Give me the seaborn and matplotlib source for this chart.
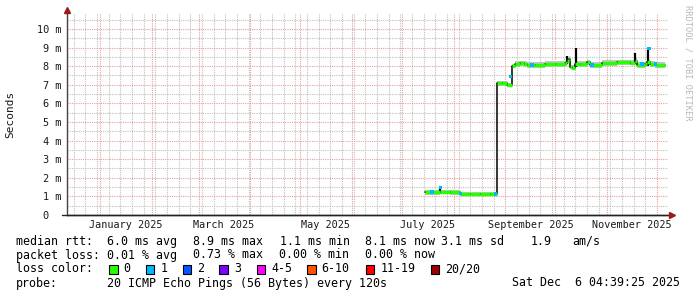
import matplotlib
matplotlib.use("Agg")
import matplotlib.pyplot as plt
import matplotlib.dates as mdates
from matplotlib.patches import Rectangle
import numpy as np
import pandas as pd
import seaborn as sns

# ---------------- data (values in ms) ----------------
dates = ["2025-07-15", "2025-07-19", "2025-07-24", "2025-07-30", "2025-08-05",
         "2025-08-11", "2025-08-17", "2025-08-23", "2025-08-26", "2025-08-27",
         "2025-08-30", "2025-09-02", "2025-09-05", "2025-09-07",
         "2025-09-10", "2025-09-12", "2025-09-14", "2025-09-19", "2025-09-25",
         "2025-10-01", "2025-10-07", "2025-10-08", "2025-10-09", "2025-10-10",
         "2025-10-11", "2025-10-13", "2025-10-16", "2025-10-20", "2025-10-22",
         "2025-10-29", "2025-11-07", "2025-11-15", "2025-11-18", "2025-11-19",
         "2025-11-24", "2025-11-25", "2025-11-27", "2025-11-30", "2025-12-06"]
median = [1.22, 1.22, 1.24, 1.22, 1.13,
          1.13, 1.13, 1.12, 1.13, 7.08,
          7.08, 7.00, 8.00, 8.10,
          8.15, 8.10, 8.05, 8.05, 8.10,
          8.12, 8.15, 8.30, 8.40, 7.95,
          7.90, 8.10, 8.12, 8.20, 8.05,
          8.15, 8.20, 8.18, 8.30, 8.05,
          8.10, 8.20, 8.10, 8.05, 8.05]
smoke_lo = [1.10, 1.10, 1.12, 1.10, 1.02,
            1.02, 1.02, 1.01, 1.02, 6.96,
            6.96, 6.90, 7.88, 7.96,
            8.00, 7.96, 7.92, 7.92, 7.96,
            7.98, 8.00, 8.16, 8.18, 7.83,
            7.78, 7.96, 7.98, 8.06, 7.92,
            8.00, 8.06, 8.04, 8.16, 7.92,
            7.96, 8.06, 7.96, 7.92, 7.92]
smoke_hi = [1.34, 1.34, 1.36, 1.34, 1.25,
            1.25, 1.25, 1.24, 1.25, 7.20,
            7.20, 7.12, 8.14, 8.26,
            8.30, 8.26, 8.20, 8.20, 8.26,
            8.28, 8.30, 8.46, 8.54, 8.08,
            8.04, 8.26, 8.28, 8.36, 8.20,
            8.32, 8.36, 8.34, 8.46, 8.20,
            8.26, 8.36, 8.26, 8.20, 8.20]

# short intervals with 1/20 packet loss (drawn in the loss-1 colour)
loss1_dates = ["2025-07-19", "2025-07-24", "2025-08-05", "2025-08-26", "2025-09-04",
               "2025-09-17", "2025-10-23", "2025-11-22", "2025-11-26", "2025-11-30"]
loss1_median = [1.24, 1.47, 1.15, 1.13, 7.45,
                8.05, 8.05, 8.10, 8.95, 8.10]

spike_dates = ["2025-07-24 00:00", "2025-10-08 00:00", "2025-10-13 12:00", "2025-11-18 00:00", "2025-11-25 12:00"]
spike_lo = [1.18, 8.10, 7.95, 8.10, 8.00]
spike_hi = [1.47, 8.55, 9.00, 8.73, 9.00]

loss_labels = ["0", "1", "2", "3", "4-5", "6-10", "11-19", "20/20"]
loss_colors = ["#26ff00", "#00b8ff", "#0059ff", "#7e00ff", "#ff00ff",
               "#ff5500", "#ff0000", "#a10000"]

y_ticks = [0, 1, 2, 3, 4, 5, 6, 7, 8, 9, 10]
y_tick_labels = ["0  ", "1 m", "2 m", "3 m", "4 m", "5 m", "6 m", "7 m", "8 m", "9 m", "10 m"]
x_label_dates = ["2025-01-16", "2025-03-16", "2025-05-16", "2025-07-16", "2025-09-16", "2025-11-16"]
x_labels = ["January 2025", "March 2025", "May 2025", "July 2025", "September 2025", "November 2025"]

stats_rtt = ["median rtt:", "6.0 ms avg", "8.9 ms max", "1.1 ms min", "8.1 ms now", "3.1 ms sd", "1.9", "am/s"]
stats_loss = ["packet loss:", "0.01 % avg", "0.73 % max", "0.00 % min", "0.00 % now"]
probe_text = ["probe:", "20 ICMP Echo Pings (56 Bytes) every 120s"]
stamp = "Sat Dec  6 04:39:25 2025"

# ---------------- figure ----------------
sns.set_style("white")
plt.rcParams["font.family"] = ["DejaVu Sans Mono", "DejaVu Sans"]

W, H = 697, 297
fig = plt.figure(figsize=(W / 100, H / 100), dpi=100, facecolor="white")
ax = fig.add_axes([67 / W, 82 / H, 601 / W, 202 / H])
ax.set_facecolor("white")

df = pd.DataFrame({"date": pd.to_datetime(dates), "median": median,
                   "lo": smoke_lo, "hi": smoke_hi})
d = df["date"].to_numpy()

# smoke
ax.fill_between(d, df["lo"], df["hi"], step="post", color="#c4c4c4", lw=0, zorder=2)
# thin black connecting median line
sns.lineplot(data=df, x="date", y="median", color="black", lw=1.1,
             drawstyle="steps-post", estimator=None, ax=ax, zorder=3)
# spikes
ax.vlines(pd.to_datetime(spike_dates, format="%Y-%m-%d %H:%M"), spike_lo, spike_hi,
          color="black", lw=1.6, zorder=4)
# median (0 loss colour)
ax.hlines(df["median"][:-1], d[:-1], d[1:], colors=loss_colors[0], lw=2.5, zorder=5)
# loss-1 marks
ldf = pd.DataFrame({"date": pd.to_datetime(loss1_dates), "median": loss1_median})
sns.scatterplot(data=ldf, x="date", y="median", marker="s", s=7, color=loss_colors[1],
                edgecolor="none", ax=ax, zorder=6)

# axes limits
ax.set_xlim(pd.Timestamp("2024-12-12"), pd.Timestamp("2025-12-07 12:00"))
ax.set_ylim(0, 10.86)

# grid
ax.xaxis.set_major_locator(mdates.MonthLocator())
ax.xaxis.set_minor_locator(mdates.WeekdayLocator(byweekday=mdates.MO))
ax.yaxis.set_major_locator(matplotlib.ticker.FixedLocator(y_ticks))
ax.yaxis.set_minor_locator(matplotlib.ticker.MultipleLocator(0.5))
ax.set_yticklabels(y_tick_labels)
ax.set_xticklabels([])
ax.grid(which="minor", color="#c0c0c0", linestyle=(0, (1, 1)), lw=0.8)
ax.grid(which="major", color="#eaa0a0", linestyle=(0, (1, 1)), lw=0.8)
ax.set_axisbelow(True)

ax.tick_params(axis="y", which="major", length=3, width=0.8, color="#555555",
               labelsize=7.4, pad=1, labelcolor="#1a1a1a")
ax.tick_params(axis="y", which="minor", length=2, width=0.6, color="#888888")
ax.tick_params(axis="x", which="major", length=4, width=0.8, color="#d07070", direction="inout")
ax.tick_params(axis="x", which="minor", length=3, width=0.6, color="#888888", direction="inout")

for lbl_d, lbl in zip(x_label_dates, x_labels):
    ax.text(pd.Timestamp(lbl_d), -0.026, lbl, transform=ax.get_xaxis_transform(),
            ha="center", va="top", fontsize=7.3, color="#1a1a1a")

ax.set_xlabel("")
ax.set_ylabel("Seconds", fontsize=8, labelpad=0, color="#1a1a1a")
ax.yaxis.set_label_coords(-52 / 601, 0.5)

for s in ["top", "right"]:
    ax.spines[s].set_visible(False)
ax.spines["left"].set_color("#444444")
ax.spines["bottom"].set_color("#222222")
ax.spines["left"].set_linewidth(1)
ax.spines["bottom"].set_linewidth(1)
ax.spines["left"].set_bounds(0, 10.86)

# axis arrows
ax.plot([0], [1.015], marker="^", color="#9a1a1a", markersize=4, transform=ax.transAxes,
        clip_on=False, zorder=10)
ax.plot([1.007], [0], marker=">", color="#9a1a1a", markersize=4, transform=ax.transAxes,
        clip_on=False, zorder=10)
ax.plot([-5 / 601, 1.0], [0, 0], color="#222222", lw=1, transform=ax.transAxes, clip_on=False)

# watermark
fig.text(688 / W, 1 - 5 / H, "RRDTOOL / TOBI OETIKER", rotation=-90, ha="center", va="top",
         fontsize=6.2, color="#b8b8b8")

# legend text
def ft(x, y, s, **kw):
    fig.text(x / W, 1 - y / H, s, ha="left", va="center", fontsize=8.4, color="#000000", **kw)

rtt_x = [16, 107, 193, 280, 365, 441, 531, 572]
for x, s in zip(rtt_x, stats_rtt):
    ft(x, 241.5, s)
loss_x = [16, 107, 193, 279, 365]
for x, s in zip(loss_x, stats_loss):
    ft(x, 255, s)
ft(16, 269, "loss color:")
box_x = [109, 145.7, 182.7, 219.3, 256.7, 307, 365.7, 430.7]
for x, lab, col in zip(box_x, loss_labels, loss_colors):
    fig.patches.append(Rectangle((x / W, 1 - 273.5 / H), 8.5 / W, 9 / H, transform=fig.transFigure,
                                 facecolor=col, edgecolor="black", lw=0.8))
    ft(x + 14.5, 269, lab)
ft(16, 283, probe_text[0])
ft(107, 283, probe_text[1])
fig.text(680 / W, 1 - 283 / H, stamp, ha="right", va="center", fontsize=8.4, color="#000000")

fig.savefig("out.png", dpi=100, facecolor="white")
